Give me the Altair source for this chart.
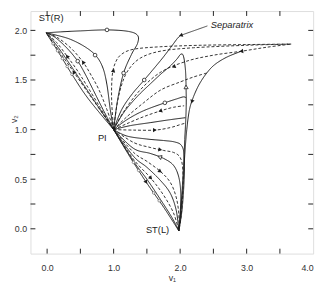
import math
import altair as alt
import pandas as pd

# ---------------- data ----------------
PI = (1.0, 1.0)
SR = (-0.015, 1.975)
SL = (1.98, -0.02)

CURVES = {
    # name: (style, points)
    "U1": ("solid", [PI, (1.06, 1.3), (1.15, 1.57), (1.27, 1.76), (1.36, 1.87), (1.36, 1.95), (1.22, 1.99), (0.9, 2.005), (0.5, 1.995), (0.2, 1.985), SR]),
    "U2": ("solid", [PI, (0.95, 1.2), (0.9, 1.45), (0.84, 1.62), (0.74, 1.74), (0.58, 1.83), (0.35, 1.91), (0.12, 1.955), SR]),
    "U3": ("dashed", [PI, (0.9, 1.2), (0.78, 1.4), (0.66, 1.55), (0.54, 1.68), (0.36, 1.82), (0.15, 1.93), SR]),
    "U4": ("solid", [PI, (0.85, 1.19), (0.7, 1.39), (0.58, 1.55), (0.46, 1.69), (0.3, 1.82), (0.12, 1.93), SR]),
    "U5": ("dashed", [PI, (0.8, 1.22), (0.6, 1.44), (0.45, 1.6), (0.3, 1.74), (0.14, 1.88), SR]),
    "U6": ("solid", [PI, (0.75, 1.25), (0.5, 1.5), (0.3, 1.7), (0.12, 1.87), SR]),
    "U7": ("dashed", [PI, (0.7, 1.29), (0.4, 1.58), (0.2, 1.77), SR]),
    "U8": ("solid", [PI, (0.62, 1.31), (0.38, 1.55), (0.18, 1.77), SR]),
    "D1": ("dashed", [PI, (0.97, 1.3), (0.98, 1.55), (1.03, 1.68), (1.12, 1.76), (1.3, 1.81), (1.7, 1.835), (2.3, 1.85), (3.0, 1.857), (3.67, 1.862)]),
    "Da": ("dashed", [PI, (1.05, 1.25), (1.12, 1.45), (1.22, 1.6), (1.4, 1.72), (1.7, 1.79), (2.2, 1.825), (3.0, 1.85), (3.67, 1.862)]),
    "S": ("solid", [PI, (1.12, 1.2), (1.28, 1.36), (1.46, 1.5), (1.71, 1.7), (1.86, 1.83), (1.96, 1.92), (2.0, 1.945)]),
    "H": ("solid", [PI, (1.15, 1.17), (1.35, 1.33), (1.55, 1.46), (1.71, 1.56), (1.85, 1.64), (1.95, 1.71), (2.01, 1.76), (2.05, 1.74), (2.08, 1.6), (2.09, 1.4), (2.09, 1.2), (2.07, 0.9), (2.04, 0.5), (2.01, 0.2), SL]),
    "Db": ("dashed", [PI, (1.15, 1.18), (1.4, 1.4), (1.71, 1.58), (2.1, 1.69), (2.5, 1.75), (2.92, 1.79), (3.3, 1.83), (3.67, 1.862)]),
    "Dc": ("dashed", [PI, (1.2, 1.13), (1.45, 1.27), (1.71, 1.4), (2.0, 1.48), (2.2, 1.53), (2.4, 1.57)]),
    "R1": ("solid", [(2.92, 1.79), (2.7, 1.73), (2.52, 1.655), (2.4, 1.57), (2.29, 1.46), (2.2, 1.33), (2.14, 1.2), (2.1, 1.0), (2.07, 0.75), (2.04, 0.4), (2.0, 0.1), SL]),
    "M1": ("solid", [PI, (1.2, 1.1), (1.45, 1.19), (1.77, 1.27), (1.95, 1.31), (2.05, 1.33), (2.09, 1.32)]),
    "Dd": ("dashed", [PI, (1.2, 1.06), (1.45, 1.13), (1.71, 1.19), (1.9, 1.225), (2.06, 1.24)]),
    "M2": ("solid", [PI, (1.25, 1.04), (1.55, 1.07), (1.85, 1.1), (2.08, 1.12)]),
    "De": ("dashed", [PI, (1.3, 0.995), (1.62, 0.995), (1.85, 1.02), (2.0, 1.05), (2.08, 1.065)]),
    "L1": ("solid", [PI, (1.2, 0.935), (1.5, 0.905), (1.75, 0.89), (1.92, 0.875), (2.02, 0.84), (2.06, 0.74), (2.06, 0.5), (2.03, 0.2), SL]),
    "L2": ("dashed", [PI, (1.3, 0.87), (1.55, 0.82), (1.75, 0.79), (1.9, 0.77), (2.0, 0.72), (2.04, 0.6), (2.04, 0.35), (2.01, 0.1), SL]),
    "L3": ("solid", [PI, (1.3, 0.81), (1.55, 0.76), (1.75, 0.71), (1.9, 0.64), (1.98, 0.52), (2.01, 0.35), (2.0, 0.15), SL]),
    "L4": ("dashed", [PI, (1.3, 0.77), (1.5, 0.68), (1.7, 0.58), (1.85, 0.47), (1.94, 0.32), (1.98, 0.15), SL]),
    "L5": ("solid", [PI, (1.3, 0.73), (1.5, 0.62), (1.7, 0.49), (1.85, 0.36), (1.94, 0.19), SL]),
    "L6": ("dashed", [PI, (1.3, 0.7), (1.56, 0.51), (1.75, 0.34), (1.9, 0.16), SL]),
    "L7": ("solid", [PI, (1.3, 0.68), (1.5, 0.5), (1.7, 0.3), (1.88, 0.11), SL]),
    "L8": ("solid", [PI, (1.25, 0.72), (1.5, 0.46), (1.75, 0.22), SL]),
    "LEAD": ("lead", [(2.41, 2.045), (2.01, 1.95)]),
}

# markers: curve, x, y, kind, reversed direction
MARKERS = [
    ("U1", 0.9, 2.005, "circle", False), ("U1", 1.15, 1.57, "circle", False),
    ("U2", 0.72, 1.75, "circle", False), ("U3", 0.54, 1.68, "arrow", False),
    ("U4", 0.46, 1.69, "circle", False), ("U5", 0.3, 1.74, "arrow", False),
    ("U7", 0.4, 1.58, "arrow", False),
    ("U8", 0.1, 1.87, "dot", False), ("U8", 0.17, 1.8, "dot", False), ("U8", 0.24, 1.72, "dot", False),
    ("U8", 0.31, 1.64, "dot", False), ("U8", 0.38, 1.56, "dot", False),
    ("D1", 0.98, 1.6, "arrow", False), ("S", 1.46, 1.5, "circle", False),
    ("Db", 1.9, 1.64, "arrow", True), ("Db", 2.92, 1.79, "arrow", True),
    ("H", 2.09, 1.43, "tri", False), ("R1", 2.18, 1.28, "arrow", False),
    ("M1", 1.77, 1.27, "circle", False), ("Dd", 1.7, 1.19, "arrow", True),
    ("De", 1.62, 0.995, "arrow", False),
    ("L2", 1.7, 0.795, "arrow", False), ("L3", 1.69, 0.72, "tri", False),
    ("L4", 1.7, 0.58, "arrow", False), ("L6", 1.56, 0.51, "arrow", False),
    ("L8", 1.49, 0.47, "arrow", False),
    ("L8", 1.3, 0.67, "dot", False), ("L8", 1.38, 0.59, "dot", False), ("L8", 1.6, 0.36, "dot", False),
    ("L8", 1.68, 0.28, "dot", False),
    ("LEAD", 2.01, 1.95, "arrow", False),
]

LABELS = [("ST(R)", 0.06, 2.12), ("PI", 0.83, 0.91), ("ST(L)", 1.66, -0.01)]
ITALIC_LABELS = [("Separatrix", 2.78, 2.055)]

XTICKS = [0, 0.5, 1, 1.5, 2, 2.5, 3, 3.5]
XLABELS = [0, 1, 2, 3, 4]
YTICKS = [0, 0.25, 0.5, 0.75, 1.0, 1.25, 1.5, 1.75, 2.0]
YLABELS = [0, 0.5, 1.0, 1.5, 2.0]

# ---------------- layout ----------------
XMIN, XMAX = -0.25, 4.0
YMIN, YMAX = -0.25, 2.195
W, H = 289, 248
SX = W / (XMAX - XMIN)
SY = H / (YMAX - YMIN)
INK = "#1c1c1c"
FRAME = "#222222"
FONT = "Liberation Sans"

rows = []
for cid, (style, pts) in CURVES.items():
    for i, (x, y) in enumerate(pts):
        rows.append({"cid": cid, "i": i, "x": x, "y": y, "style": style})
df_lines = pd.DataFrame(rows)


def place(cid, x, y, rev):
    pts = CURVES[cid][1]
    best = None
    for (x0, y0), (x1, y1) in zip(pts, pts[1:]):
        ax, ay = (x1 - x0) * SX, (y1 - y0) * SY
        px, py = (x - x0) * SX, (y - y0) * SY
        L = ax * ax + ay * ay
        t = max(0.0, min(1.0, (px * ax + py * ay) / L)) if L > 0 else 0.0
        d = (px - t * ax) ** 2 + (py - t * ay) ** 2
        if best is None or d < best[0]:
            best = (d, x0 + t * (x1 - x0), y0 + t * (y1 - y0), ax, ay)
    _, mx, my, ax, ay = best
    if rev:
        ax, ay = -ax, -ay
    ang = math.degrees(math.atan2(ax, ay)) % 360
    return mx, my, ang


mrows = []
for cid, x, y, kind, rev in MARKERS:
    mx, my, ang = place(cid, x, y, rev)
    mrows.append({"x": mx, "y": my, "ang": ang, "kind": kind})
df_m = pd.DataFrame(mrows)
df_lab = pd.DataFrame(LABELS, columns=["text", "x", "y"])
df_ital = pd.DataFrame(ITALIC_LABELS, columns=["text", "x", "y"])

xs = alt.Scale(domain=[XMIN, XMAX], nice=False, zero=False)
ys = alt.Scale(domain=[YMIN, YMAX], nice=False, zero=False)
xaxis = alt.Axis(values=XLABELS, format=".1f", title="v\u2081", domain=False, ticks=False, grid=False,
                 labelPadding=10, titlePadding=1, labelFontSize=9, titleFontSize=9,
                 labelColor="#333", titleColor="#333", titleFontWeight="normal",
                 labelFont=FONT, titleFont=FONT, labelOverlap=False)
yaxis = alt.Axis(values=YLABELS, format=".1f", title="v\u2082", domain=False, ticks=False, grid=False,
                 labelPadding=4, labelFontSize=9, titleFontSize=9,
                 titleX=-12, titleY=110, titleAngle=270, titleAlign="center", titleBaseline="bottom",
                 labelColor="#333", titleColor="#333", titleFontWeight="normal",
                 labelFont=FONT, titleFont=FONT, labelOverlap=False)
X = alt.X("x:Q", scale=xs, axis=xaxis)
Y = alt.Y("y:Q", scale=ys, axis=yaxis)

lines = alt.Chart(df_lines).mark_line(interpolate="cardinal", color=INK).encode(
    x=X, y=Y, detail="cid:N", order="i:Q",
    strokeDash=alt.StrokeDash("style:N", scale=alt.Scale(domain=["solid", "dashed", "lead"],
                                                         range=[[1, 0], [3, 2], [1, 0]]), legend=None),
    strokeWidth=alt.StrokeWidth("style:N", scale=alt.Scale(domain=["solid", "dashed", "lead"],
                                                           range=[1.0, 0.8, 0.6]), legend=None),
)

arrows = alt.Chart(df_m).transform_filter(alt.datum.kind == "arrow").mark_point(
    shape="triangle-up", filled=True, color=INK, size=20, opacity=1).encode(
    x=X, y=Y, angle=alt.Angle("ang:Q", scale=None))
circles = alt.Chart(df_m).transform_filter(alt.datum.kind == "circle").mark_point(
    shape="circle", filled=True, fill="white", stroke=INK, strokeWidth=0.8, size=14, opacity=1).encode(x=X, y=Y)
tris = alt.Chart(df_m).transform_filter(alt.datum.kind == "tri").mark_point(
    shape="triangle-down", filled=True, fill="white", stroke=INK, strokeWidth=0.8, size=18, opacity=1).encode(
    x=X, y=Y, angle=alt.Angle("ang:Q", scale=None))
dots = alt.Chart(df_m).transform_filter(alt.datum.kind == "dot").mark_point(
    shape="circle", filled=True, fill="white", stroke="#555", strokeWidth=0.6, size=7, opacity=1).encode(x=X, y=Y)

texts = alt.Chart(df_lab).mark_text(font=FONT, fontSize=9.5, color="#222").encode(
    x=X, y=Y, text="text:N")
itexts = alt.Chart(df_ital).mark_text(font=FONT, fontSize=9.5, fontStyle="italic", color="#222").encode(
    x=X, y=Y, text="text:N")

tick_b = alt.Chart(pd.DataFrame({"x": XTICKS})).mark_rule(color=FRAME, strokeWidth=1).encode(
    x=X, y=alt.value(H), y2=alt.value(H - 5))
tick_t = alt.Chart(pd.DataFrame({"x": XTICKS})).mark_rule(color=FRAME, strokeWidth=1).encode(
    x=X, y=alt.value(0), y2=alt.value(5))
tick_l = alt.Chart(pd.DataFrame({"y": YTICKS})).mark_rule(color=FRAME, strokeWidth=1).encode(
    y=Y, x=alt.value(0), x2=alt.value(5))
tick_r = alt.Chart(pd.DataFrame({"y": YTICKS})).mark_rule(color=FRAME, strokeWidth=1).encode(
    y=Y, x=alt.value(W), x2=alt.value(W - 5))

chart = alt.layer(lines, dots, circles, tris, arrows, texts, itexts, tick_b, tick_t, tick_l, tick_r).properties(
    width=W, height=H,
    padding={"left": 23, "top": 0, "right": 7, "bottom": 30},
    autosize=alt.AutoSizeParams(type="none"),
).configure_view(stroke=FRAME, strokeWidth=1).configure(background="white")

chart.save("out.html", embed_options={"renderer": "svg", "actions": False})
